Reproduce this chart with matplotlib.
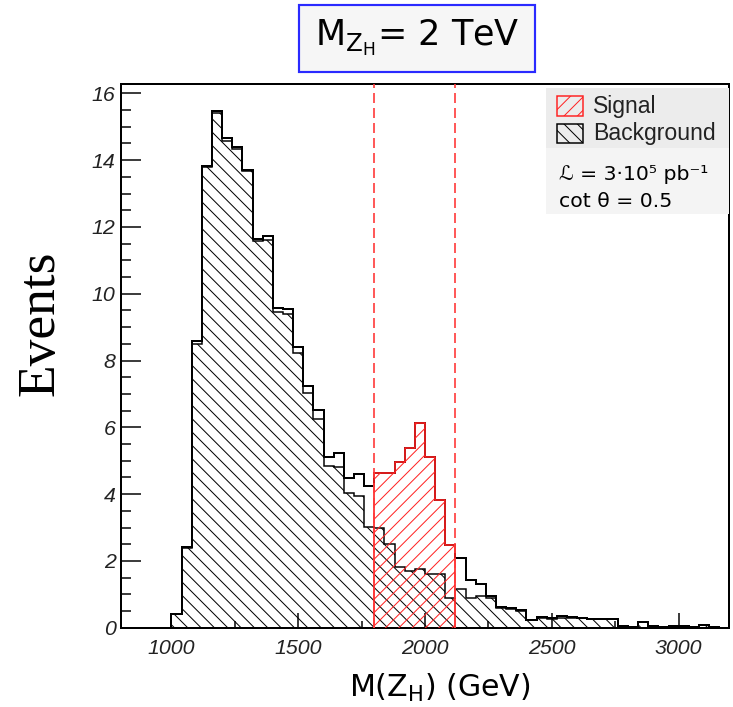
import numpy as np
import matplotlib
matplotlib.use("Agg")
import matplotlib.pyplot as plt
from matplotlib.patches import Rectangle
from matplotlib.ticker import MultipleLocator

# ---------------- data ----------------
bin_start = 1000          # GeV, lower edge of first bin
bin_width = 40            # GeV
background = [0.40, 2.40, 8.50, 13.78, 15.42, 14.57, 14.33, 13.66, 11.58, 11.60,
              9.45, 9.38, 8.23, 7.02, 6.24, 4.84, 4.82, 4.02, 3.94, 3.02,
              3.00, 2.50, 1.83, 1.70, 1.75, 1.62, 1.61, 0.88, 1.15, 0.90,
              0.95, 0.88, 0.58, 0.55, 0.50, 0.22, 0.30, 0.26, 0.28, 0.30,
              0.28, 0.25, 0.25, 0.25, 0.06, 0.03, 0.16, 0.06, 0.03, 0.06,
              0.06, 0.03, 0.08, 0.03, 0.00]
signal = [0.00, 0.03, 0.07, 0.04, 0.06, 0.08, 0.07, 0.05, 0.05, 0.13,
          0.11, 0.15, 0.18, 0.21, 0.28, 0.28, 0.42, 0.45, 0.66, 1.21,
          1.64, 2.14, 3.12, 3.69, 4.37, 3.50, 2.21, 1.60, 0.95, 0.52,
          0.36, 0.07, 0.03, 0.03, 0.03, 0.02, 0.03, 0.02, 0.08, 0.03,
          0.02, 0.00, 0.00, 0.00, 0.00, 0.00, 0.00, 0.00, 0.00, 0.00,
          0.00, 0.00, 0.00, 0.00, 0.00]
mass_window = [1800, 2120]
x_ticks = [1000, 1500, 2000, 2500, 3000]
y_ticks = [0, 2, 4, 6, 8, 10, 12, 14, 16]
legend_labels = ["Signal", "Background"]
info_lines = ["ℒ = 3·10⁵ pb⁻¹", "cot θ = 0.5"]
title_text = r"$\mathregular{M_{Z_H}}$= 2 TeV"
x_label = r"M(Z$_\mathregular{H}$) (GeV)"
y_label = "Events"

# ---------------- figure ----------------
W, H, DPI = 733, 707, 120
plt.rcParams["hatch.linewidth"] = 0.6
plt.rcParams["font.family"] = ["DejaVu Sans"]

fig = plt.figure(figsize=(W / DPI, H / DPI), dpi=DPI)
fig.patch.set_facecolor("white")


def fx(px):
    return px / W


def fy(py):
    return 1 - py / H


ax_l, ax_r, ax_b, ax_t = 120.7, 729.4, 627.7, 84.0
ax = fig.add_axes([fx(ax_l), fy(ax_b), (ax_r - ax_l) / W, (ax_b - ax_t) / H])

bg = np.array(background)
sig = np.array(signal)
total = bg + sig
edges = bin_start + bin_width * np.arange(len(bg) + 1)

RED = "#ff2222"
BG_HATCH = "\\\\\\"
SIG_HATCH = "///"
# background, hatched
ax.stairs(bg, edges, baseline=0, fill=True, facecolor="none",
          edgecolor="black", hatch=BG_HATCH, linewidth=0.9, zorder=2)
# total (signal + background) outline
ax.stairs(total, edges, baseline=0, fill=False, color="black",
          linewidth=1.2, zorder=3)
# signal window
lo = edges[:-1] >= mass_window[0]
hi = edges[1:] <= mass_window[1]
win = np.where(lo & hi)[0]
ax.stairs(total[win], edges[win[0]:win[-1] + 2], baseline=0, fill=True,
          facecolor="none", edgecolor=RED, hatch=SIG_HATCH, linewidth=1.0, zorder=4)
for xv in mass_window:
    ax.axvline(xv, color="#ff3a3a", linestyle=(0, (6, 3)), linewidth=1.0, zorder=5)

ax.set_xlim(800, 3200)
ax.set_ylim(0, 16.28)
tick_font = dict(fontfamily="Liberation Sans", fontstyle="italic",
                 fontsize=12.8, color="#222222")
ax.set_xticks(x_ticks, labels=[str(v) for v in x_ticks], **tick_font)
ax.set_yticks(y_ticks, labels=[str(v) for v in y_ticks], **tick_font)
ax.xaxis.set_minor_locator(MultipleLocator(250))
ax.yaxis.set_minor_locator(MultipleLocator(0.5))
ax.tick_params(which="both", direction="in", top=False, right=False, width=0.9)
ax.tick_params(axis="x", which="major", length=9, pad=7)
ax.tick_params(axis="x", which="minor", length=4.5)
ax.tick_params(axis="y", which="major", length=12, pad=3)
ax.tick_params(axis="y", which="minor", length=6)
for s in ax.spines.values():
    s.set_linewidth(1.2)

# legend box
fig.add_artist(Rectangle((fx(545.5), fy(148)), (729 - 545.5) / W, (148 - 88) / H,
                         transform=fig.transFigure, facecolor="#ececec",
                         edgecolor="none", zorder=6))
fig.add_artist(Rectangle((fx(545.5), fy(214)), (729 - 545.5) / W, (214 - 148) / H,
                         transform=fig.transFigure, facecolor="#f4f4f4",
                         edgecolor="none", zorder=6))
handle_styles = [dict(edgecolor=RED, hatch=SIG_HATCH), dict(edgecolor="black", hatch=BG_HATCH)]
for i, (lab, st) in enumerate(zip(legend_labels, handle_styles)):
    top = 96 + i * 27.5
    fig.add_artist(Rectangle((fx(557.3), fy(top + 19.7)), 25.4 / W, 19.7 / H,
                             transform=fig.transFigure, facecolor="none",
                             linewidth=0.9, zorder=7, **st))
    fig.text(fx(593), fy(top + 10), lab, fontfamily="Liberation Sans",
             fontsize=13.8, color="#222222", va="center", ha="left", zorder=8)
for i, line in enumerate(info_lines):
    fig.text(fx(559), fy(180 + i * 26.7), line, fontfamily="DejaVu Sans",
             fontsize=12.2, color="black", va="baseline", ha="left", zorder=8)

# title box
fig.add_artist(Rectangle((fx(299.3), fy(71.7)), (535 - 299.3) / W, (71.7 - 5) / H,
                         transform=fig.transFigure, facecolor="#f6f6f6",
                         edgecolor="#2a2aff", linewidth=1.3, zorder=6))
fig.text(fx(417), fy(38), title_text, fontsize=21, ha="center", va="center",
         color="black", zorder=7)

# axis labels
fig.text(fx(40), fy(323), y_label, rotation=90, fontfamily="Liberation Serif",
         fontsize=32, ha="center", va="center")
fig.text(fx(440), fy(688), x_label, fontfamily="DejaVu Sans", fontsize=18,
         ha="center", va="center")

fig.savefig("out.png", dpi=DPI)
